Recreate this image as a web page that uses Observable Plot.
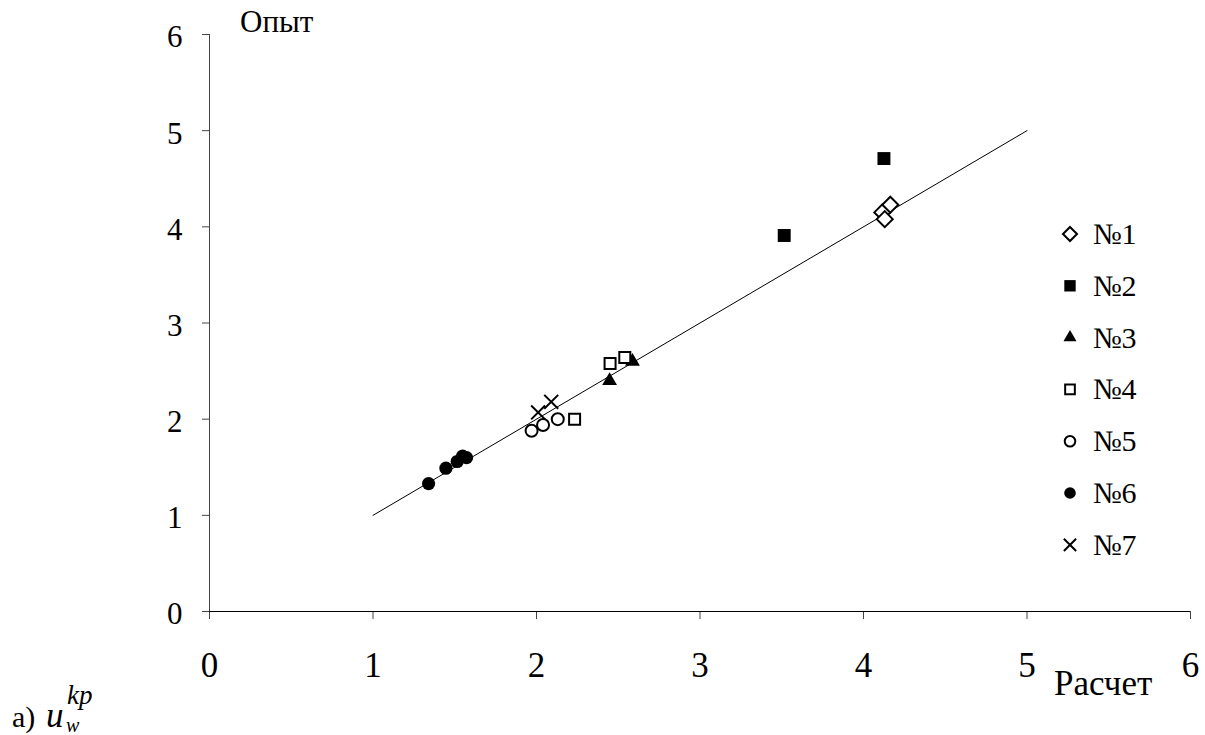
<!DOCTYPE html>
<html><head><meta charset="utf-8">
<script src="https://cdn.jsdelivr.net/npm/d3@7"></script>
<script src="https://cdn.jsdelivr.net/npm/@observablehq/plot@0.6"></script>
<style>
body{margin:0;background:#fff;}
#wrap{position:relative;width:1205px;height:735px;overflow:hidden;}
#overlay{position:absolute;left:0;top:0;pointer-events:none;}
</style></head><body><div id="wrap"></div>
<script>
// ---- data ----
const xTicks = [0, 1, 2, 3, 4, 5, 6];
const yTicks = [0, 1, 2, 3, 4, 5, 6];
const refX = [1, 5];
const refY = [1, 5];
const seriesNames = ["№1", "№2", "№3", "№4", "№5", "№6", "№7"];
const n1x = [4.115, 4.164, 4.13], n1y = [4.15, 4.23, 4.08];
const n2x = [4.125, 3.515], n2y = [4.71, 3.91];
const n3x = [2.447, 2.587], n3y = [2.40, 2.60];
const n4x = [2.45, 2.54, 2.233], n4y = [2.58, 2.64, 2.00];
const n5x = [1.97, 2.04, 2.13], n5y = [1.88, 1.94, 2.00];
const n6x = [1.34, 1.446, 1.515, 1.548, 1.572], n6y = [1.33, 1.49, 1.56, 1.615, 1.60];
const n7x = [2.01, 2.09], n7y = [2.07, 2.18];
const xLabel = "Расчет", yLabel = "Опыт";

const pts = (xs, ys) => xs.map((x, i) => ({x, y: ys[i]}));
const ref = pts(refX, refY);

const styles = [
  {symbol: "diamond2", r: 7.2, fill: "white", stroke: "black", strokeWidth: 2},
  {symbol: "square", r: 7.3, fill: "black", stroke: "none"},
  {symbol: "triangle", r: 5.5, fill: "black", stroke: "none"},
  {symbol: "square2", r: 7.0, fill: "white", stroke: "black", strokeWidth: 2},
  {symbol: "circle", r: 6.0, fill: "white", stroke: "black", strokeWidth: 2},
  {symbol: "circle", r: 6.6, fill: "black", stroke: "none"},
  {symbol: "times", r: 6.4, fill: "none", stroke: "black", strokeWidth: 2}
];
const data = [pts(n1x,n1y), pts(n2x,n2y), pts(n3x,n3y), pts(n4x,n4y), pts(n5x,n5y), pts(n6x,n6y), pts(n7x,n7y)];
const FONT = "Liberation Serif";

const plot = Plot.plot({
  width: 1205, height: 735,
  marginLeft: 209, marginRight: 15, marginTop: 34, marginBottom: 124,
  x: {domain: [0, 6]}, y: {domain: [0, 6]},
  style: {background: "white", color: "black"},
  marks: [
    Plot.axisX({ticks: xTicks, tickSize: 8, tickPadding: 33, fontSize: 35, label: null, tickFormat: d => String(d), stroke: "#444"}),
    Plot.axisY({ticks: yTicks, tickSize: 7, label: null, tickFormat: () => "", stroke: "#444"}),
    Plot.axisY({ticks: yTicks, tickSize: 0, tickPadding: 27, fontSize: 31, dy: 3, label: null, tickFormat: d => String(d)}),
    Plot.ruleY([0], {stroke: "black"}),
    Plot.ruleX([0], {stroke: "#444"}),
    Plot.line(ref, {x: "x", y: "y", stroke: "black", strokeWidth: 1}),
    ...data.map((d, i) => Plot.dot(d, {x: "x", y: "y", ...styles[i]}))
  ]
});
plot.setAttribute("font-family", FONT);
const wrap = document.getElementById("wrap");
wrap.appendChild(plot);

// overlay: axis titles, legend, caption
const ov = d3.select(wrap).append("svg").attr("id", "overlay").attr("width", 1205).attr("height", 735)
  .attr("font-family", FONT);
ov.append("text").attr("x", 240).attr("y", 32).attr("font-size", 31).text(yLabel);
ov.append("text").attr("x", 1054).attr("y", 695).attr("font-size", 35).text(xLabel);

const symMap = {diamond2: d3.symbolDiamond2, square: d3.symbolSquare, triangle: d3.symbolTriangle,
  square2: d3.symbolSquare2, circle: d3.symbolCircle, times: d3.symbolTimes};
seriesNames.forEach((name, i) => {
  const cy = 234 + i * 51.8;
  const s = styles[i];
  const r = s.r * 0.88;
  ov.append("path")
    .attr("d", d3.symbol(symMap[s.symbol], Math.PI * r * r)())
    .attr("transform", `translate(1070,${cy})`)
    .attr("fill", s.fill).attr("stroke", s.stroke).attr("stroke-width", s.strokeWidth || 0);
  ov.append("text").attr("x", 1093).attr("y", cy + 10).attr("font-size", 30).text(name);
});

ov.append("text").attr("x", 12).attr("y", 727).attr("font-size", 30).text("а)");
ov.append("text").attr("x", 46).attr("y", 727).attr("font-size", 35).attr("font-style", "italic").text("u");
ov.append("text").attr("x", 67).attr("y", 704).attr("font-size", 27).attr("font-style", "italic").text("kp");
ov.append("text").attr("x", 66).attr("y", 732).attr("font-size", 20).attr("font-style", "italic").text("w");
d3.selectAll("#wrap text").attr("font-family", FONT);
</script></body></html>
